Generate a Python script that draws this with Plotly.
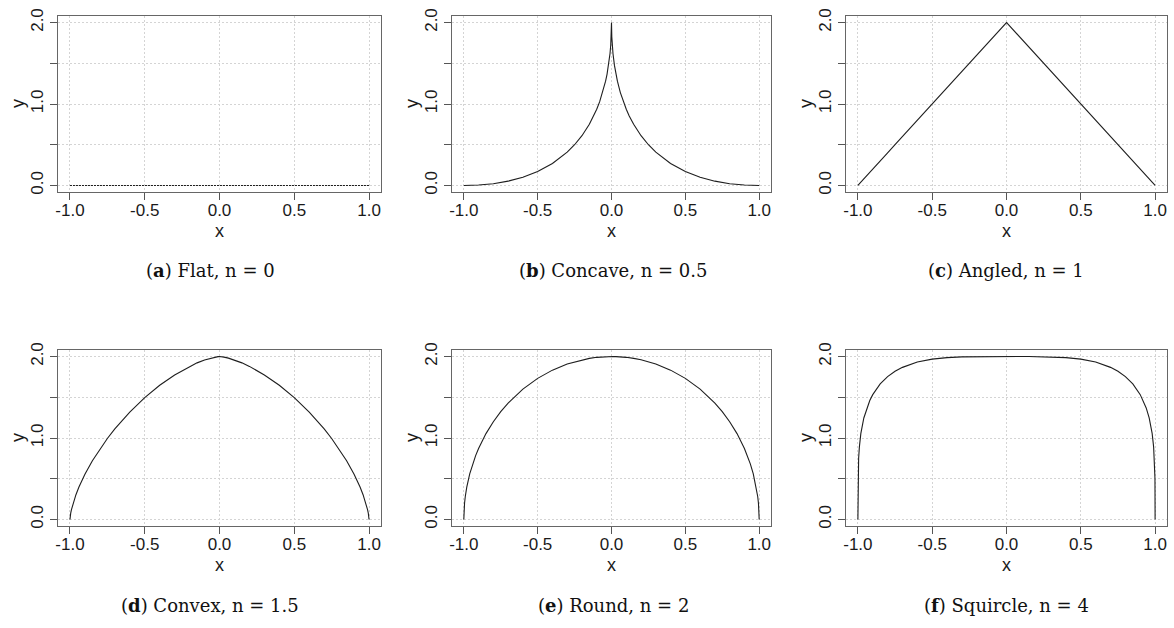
import plotly.graph_objects as go
from plotly.subplots import make_subplots

# ---- data ----
x_vals = [-1.0, -0.999, -0.995, -0.99, -0.98, -0.96, -0.94, -0.92, -0.9, -0.85, -0.8, -0.75, -0.7,
          -0.6, -0.5, -0.4, -0.3, -0.2, -0.15, -0.1, -0.06, -0.03, -0.01, 0.0,
          0.01, 0.03, 0.06, 0.1, 0.15, 0.2, 0.3, 0.4, 0.5, 0.6, 0.7, 0.75, 0.8, 0.85,
          0.9, 0.92, 0.94, 0.96, 0.98, 0.99, 0.995, 0.999, 1.0]

flat_x = [-1.0, 1.0]
flat_y = [0.0, 0.0]

concave_x = [-1.0, -0.9, -0.8, -0.7, -0.6, -0.5, -0.4, -0.35, -0.3, -0.25, -0.2, -0.15, -0.12, -0.1,
             -0.08, -0.06, -0.04, -0.03, -0.02, -0.01, -0.005, -0.002, 0.0,
             0.002, 0.005, 0.01, 0.02, 0.03, 0.04, 0.06, 0.08, 0.1, 0.12, 0.15, 0.2, 0.25, 0.3,
             0.35, 0.4, 0.5, 0.6, 0.7, 0.8, 0.9, 1.0]
concave_y = [0.0, 0.005, 0.022, 0.053, 0.102, 0.172, 0.270, 0.334, 0.409, 0.5, 0.611, 0.751, 0.854, 0.935,
             1.029, 1.140, 1.28, 1.367, 1.474, 1.62, 1.727, 1.825, 2.0,
             1.825, 1.727, 1.62, 1.474, 1.367, 1.28, 1.140, 1.029, 0.935, 0.854, 0.751, 0.611, 0.5, 0.409,
             0.334, 0.270, 0.172, 0.102, 0.053, 0.022, 0.005, 0.0]

angled_y = [0.0, 0.002, 0.01, 0.02, 0.04, 0.08, 0.12, 0.16, 0.2, 0.3, 0.4, 0.5, 0.6,
            0.8, 1.0, 1.2, 1.4, 1.6, 1.7, 1.8, 1.88, 1.94, 1.98, 2.0,
            1.98, 1.94, 1.88, 1.8, 1.7, 1.6, 1.4, 1.2, 1.0, 0.8, 0.6, 0.5, 0.4, 0.3,
            0.2, 0.16, 0.12, 0.08, 0.04, 0.02, 0.01, 0.002, 0.0]

convex_y = [0.0, 0.026, 0.077, 0.121, 0.192, 0.304, 0.398, 0.480, 0.555, 0.721, 0.865, 0.994, 1.112,
            1.318, 1.495, 1.647, 1.774, 1.879, 1.922, 1.958, 1.980, 1.993, 1.999, 2.0,
            1.999, 1.993, 1.980, 1.958, 1.922, 1.879, 1.774, 1.647, 1.495, 1.318, 1.112, 0.994, 0.865, 0.721,
            0.555, 0.480, 0.398, 0.304, 0.192, 0.121, 0.077, 0.026, 0.0]

round_y = [0.0, 0.089, 0.200, 0.282, 0.398, 0.560, 0.682, 0.784, 0.872, 1.054, 1.2, 1.323, 1.428,
           1.6, 1.732, 1.833, 1.908, 1.960, 1.977, 1.990, 1.996, 1.999, 2.0, 2.0,
           2.0, 1.999, 1.996, 1.990, 1.977, 1.960, 1.908, 1.833, 1.732, 1.6, 1.428, 1.323, 1.2, 1.054,
           0.872, 0.784, 0.682, 0.560, 0.398, 0.282, 0.200, 0.089, 0.0]

squircle_y = [0.0, 0.503, 0.751, 0.891, 1.056, 1.246, 1.369, 1.460, 1.532, 1.663, 1.753, 1.819, 1.867,
              1.932, 1.968, 1.987, 1.996, 1.999, 2.0, 2.0, 2.0, 2.0, 2.0, 2.0,
              2.0, 2.0, 2.0, 2.0, 2.0, 1.999, 1.996, 1.987, 1.968, 1.932, 1.867, 1.819, 1.753, 1.663,
              1.532, 1.460, 1.369, 1.246, 1.056, 0.891, 0.751, 0.503, 0.0]

captions = ["(<b>a</b>) Flat, n = 0", "(<b>b</b>) Concave, n = 0.5", "(<b>c</b>) Angled, n = 1",
            "(<b>d</b>) Convex, n = 1.5", "(<b>e</b>) Round, n = 2", "(<b>f</b>) Squircle, n = 4"]

x_ticks = [-1.0, -0.5, 0.0, 0.5, 1.0]
x_ticktext = ["-1.0", "-0.5", "0.0", "0.5", "1.0"]
y_ticks = [0.0, 0.5, 1.0, 1.5, 2.0]
y_ticktext = ["0.0", "", "1.0", "", "2.0"]

# ---- figure ----
W, H = 1174, 628
fig = make_subplots(rows=2, cols=3)

series = [(flat_x, flat_y, "2px,1px"), (concave_x, concave_y, "solid"), (x_vals, angled_y, "solid"),
          (x_vals, convex_y, "solid"), (x_vals, round_y, "solid"), (x_vals, squircle_y, "solid")]

col_px = [(58, 381), (452, 771), (846, 1167)]
row_px = [(16, 192), (350, 526)]
caption_x_px = [210, 613, 1006]
caption_y_px = [270, 605]

tick_font = dict(family="Liberation Sans, Arial, sans-serif", size=17, color="#1a1a1a")
title_font = dict(family="Liberation Sans, Arial, sans-serif", size=18, color="#1a1a1a")

for i, (xs, ys, dash) in enumerate(series):
    r, c = divmod(i, 3)
    fig.add_trace(go.Scatter(x=xs, y=ys, mode="lines",
                             line=dict(color="#1e1e1e", width=1.1, dash=dash),
                             showlegend=False, hoverinfo="skip"),
                  row=r + 1, col=c + 1)
    x0, x1 = col_px[c]
    y0, y1 = row_px[r]
    fig.update_xaxes(domain=[x0 / W, x1 / W], range=[-1.08, 1.08], automargin=False,
                     tickvals=x_ticks, ticktext=x_ticktext,
                     ticks="outside", ticklen=7, tickcolor="#555", tickwidth=1,
                     ticklabelstandoff=-5,
                     showline=True, linecolor="#666", linewidth=1.2, mirror=True,
                     showgrid=True, gridcolor="#d4d4d4", gridwidth=1, griddash="2px,2px",
                     zeroline=False, tickfont=tick_font,
                     row=r + 1, col=c + 1)
    fig.update_yaxes(domain=[1 - y1 / H, 1 - y0 / H], range=[-0.08, 2.08], automargin=False,
                     tickvals=y_ticks, ticktext=y_ticktext, tickangle=-90,
                     ticks="outside", ticklen=7, tickcolor="#555", tickwidth=1,
                     showline=True, linecolor="#666", linewidth=1.2, mirror=True,
                     showgrid=True, gridcolor="#d4d4d4", gridwidth=1, griddash="2px,2px",
                     zeroline=False, tickfont=tick_font,
                     row=r + 1, col=c + 1)
    # axis titles
    fig.add_annotation(text="x", xref="paper", yref="paper",
                       x=(x0 + x1) / 2 / W, y=1 - (y1 + 39) / H,
                       xanchor="center", yanchor="middle", showarrow=False, font=title_font)
    fig.add_annotation(text="y", xref="paper", yref="paper", textangle=-90,
                       x=(x0 - 40) / W, y=1 - (y0 + y1) / 2 / H,
                       xanchor="center", yanchor="middle", showarrow=False, font=title_font)
    fig.add_annotation(text=captions[i], xref="paper", yref="paper",
                       x=caption_x_px[c] / W, y=1 - caption_y_px[r] / H,
                       xanchor="center", yanchor="middle", showarrow=False,
                       font=dict(family="DejaVu Serif, Liberation Serif, serif", size=18, color="#111"))

fig.update_layout(width=W, height=H, margin=dict(l=0, r=0, t=0, b=0),
                  plot_bgcolor="white", paper_bgcolor="white")

fig.write_html("out.html", config={"displayModeBar": False},
               post_script="document.body.style.margin='0';document.body.style.padding='0';")
